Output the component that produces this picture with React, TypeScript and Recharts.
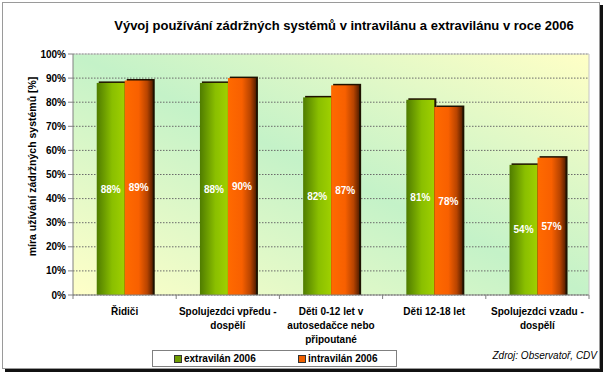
import { BarChart, Bar, XAxis, YAxis, CartesianGrid, LabelList } from "recharts";

const FONT = '"Liberation Sans", Arial, Helvetica, sans-serif';

const title = "Vývoj používání zádržných systémů v intravilánu a extravilánu v roce 2006";
const yLabel = "míra užívání zádržných systémů [%]";
const source = "Zdroj: Observatoř, CDV";

const categories = [
  "Řidiči",
  "Spolujezdci vpředu -\ndospělí",
  "Děti 0-12 let v\nautosedačce nebo\npřipoutané",
  "Děti 12-18 let",
  "Spolujezdci vzadu -\ndospělí",
];
const extravilan = [88, 88, 82, 81, 54];
const intravilan = [89, 90, 87, 78, 57];
const yTicks = [0, 10, 20, 30, 40, 50, 60, 70, 80, 90, 100];
const seriesNames = ["extravilán 2006", "intravilán 2006"];
const seriesSwatch = ["#6e9c00", "#f06000"];

const data = categories.map((name, i) => ({ name, extra: extravilan[i], intra: intravilan[i] }));

function ShadowBar(props: any) {
  const { x, y, width, height, fill } = props;
  if (!height) return null;
  return (
    <g>
      <rect x={x + 2} y={y - 1.5} width={width} height={height + 1.5} fill="#1e1200" />
      <rect x={x} y={y} width={width} height={height} fill={fill} />
    </g>
  );
}

function CategoryTick(props: any) {
  const { x, y, payload, index } = props;
  const lines = String(payload.value).split("\n");
  const half = (props.width ?? 516) / categories.length / 2;
  return (
    <g>
      <line x1={x - half} x2={x - half} y1={y} y2={y + 4} stroke="#808080" />
      {index === categories.length - 1 && <line x1={x + half} x2={x + half} y1={y} y2={y + 4} stroke="#808080" />}
      <text x={x} y={y + 20} textAnchor="middle" fontFamily={FONT} fontSize={10} fontWeight="bold" fill="#000">
        {lines.map((l, i) => (
          <tspan key={i} x={x} dy={i === 0 ? 0 : 14}>
            {l}
          </tspan>
        ))}
      </text>
    </g>
  );
}

export default function App() {
  return (
    <div style={{ position: "absolute", left: 0, top: 0, width: 604, height: 375, background: "#fff", fontFamily: FONT }}>
      <div
        style={{
          position: "absolute",
          left: 2,
          top: 2,
          width: 598,
          height: 367,
          boxSizing: "border-box",
          border: "1px solid #9a9a9a",
          boxShadow: "3px 3px 0 #111",
          background: "#fff",
        }}
      />
      <div style={{ position: "absolute", left: 0, top: 0 }}>
        <BarChart width={604} height={375} data={data} margin={{ top: 54, right: 15, left: 0, bottom: 0 }} barCategoryGap="23%" barGap={0}>
          <defs>
            <linearGradient id="plotBg" x1="0" y1="1" x2="1" y2="0">
              <stop offset="0" stopColor="#ffffc8" />
              <stop offset="0.5" stopColor="#c4f2c8" />
              <stop offset="1" stopColor="#ffffc6" />
            </linearGradient>
            <linearGradient id="gGreen" x1="0" y1="0" x2="1" y2="0">
              <stop offset="0" stopColor="#4f7c00" />
              <stop offset="0.55" stopColor="#8abf00" />
              <stop offset="1" stopColor="#9fd000" />
            </linearGradient>
            <linearGradient id="gOrange" x1="0" y1="0" x2="1" y2="0">
              <stop offset="0" stopColor="#ff6a00" />
              <stop offset="0.5" stopColor="#f86000" />
              <stop offset="0.8" stopColor="#b84400" />
              <stop offset="1" stopColor="#5a2000" />
            </linearGradient>
          </defs>
          <CartesianGrid vertical={false} stroke="#6a6a6a" strokeDasharray="1.5 1.5" fill="url(#plotBg)" fillOpacity={1} />
          <CartesianGrid
            stroke="#c4c4c4"
            horizontalCoordinatesGenerator={({ offset }: any) => [offset.top]}
            verticalCoordinatesGenerator={({ offset }: any) => [offset.left + offset.width]}
          />
          <XAxis
            dataKey="name"
            interval={0}
            height={80}
            tickSize={0}
            tickMargin={0}
            tickLine={false}
            axisLine={{ stroke: "#808080" }}
            tick={<CategoryTick />}
          />
          <YAxis
            width={73}
            domain={[0, 100]}
            ticks={yTicks}
            interval={0}
            tickFormatter={(v) => `${v}%`}
            tickSize={5}
            tickMargin={2}
            axisLine={{ stroke: "#808080" }}
            tickLine={{ stroke: "#808080" }}
            tick={{ fill: "#000", fontSize: 10, fontWeight: "bold", fontFamily: FONT }}
            label={{
              content: (p: any) => {
                const vb = p.viewBox || { x: 0, y: 54, height: 241 };
                const cx = vb.x + 32;
                const cy = vb.y + vb.height / 2 - 8;
                return (
                  <text
                    transform={`translate(${cx},${cy}) rotate(-90)`}
                    textAnchor="middle"
                    dominantBaseline="central"
                    fontFamily={FONT}
                    fontSize={10.5}
                    fontWeight="bold"
                    fill="#000"
                  >
                    {yLabel}
                  </text>
                );
              },
            }}
          />
          <Bar dataKey="extra" name={seriesNames[0]} fill="url(#gGreen)" shape={<ShadowBar />} isAnimationActive={false}>
            <LabelList dataKey="extra" position="center" formatter={(v: any) => `${v}%`} fill="#fff" fontSize={10} fontWeight="bold" fontFamily={FONT} />
          </Bar>
          <Bar dataKey="intra" name={seriesNames[1]} fill="url(#gOrange)" shape={<ShadowBar />} isAnimationActive={false}>
            <LabelList dataKey="intra" position="center" formatter={(v: any) => `${v}%`} fill="#fff" fontSize={10} fontWeight="bold" fontFamily={FONT} />
          </Bar>
        </BarChart>
      </div>
      <div
        style={{
          position: "absolute",
          left: 0,
          width: 688,
          top: 18,
          textAlign: "center",
          fontSize: 13,
          lineHeight: "15px",
          fontWeight: "bold",
          color: "#000",
          whiteSpace: "nowrap",
        }}
      >
        {title}
      </div>
      <div
        style={{
          position: "absolute",
          left: 152,
          top: 350,
          width: 245,
          height: 17,
          boxSizing: "border-box",
          border: "1px solid #808080",
          background: "#fff",
          fontSize: 10,
          fontWeight: "bold",
          lineHeight: "15px",
        }}
      >
        {seriesNames.map((n, i) => (
          <div key={n} style={{ position: "absolute", left: i === 0 ? 21 : 145, top: 0, display: "flex", alignItems: "center", height: 15 }}>
            <span
              style={{
                display: "inline-block",
                width: 6,
                height: 6,
                background: seriesSwatch[i],
                border: "1px solid #333",
                marginRight: 2,
              }}
            />
            <span>{n}</span>
          </div>
        ))}
      </div>
      <div
        style={{
          position: "absolute",
          right: 7,
          top: 350,
          fontSize: 10,
          lineHeight: "12px",
          fontStyle: "italic",
          color: "#000",
          whiteSpace: "nowrap",
        }}
      >
        {source}
      </div>
    </div>
  );
}
